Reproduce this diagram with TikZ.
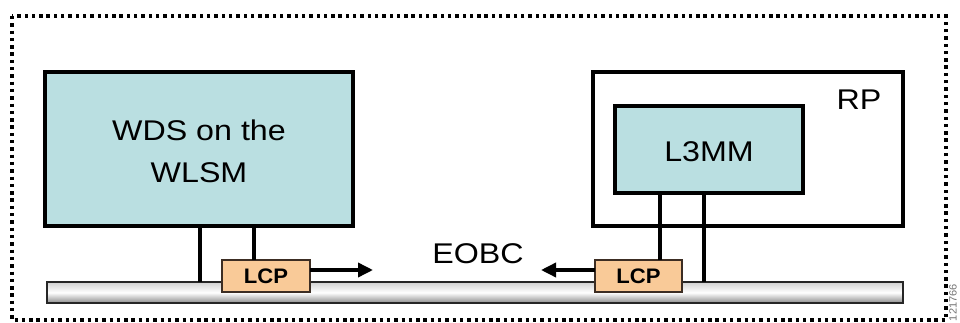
\documentclass[tikz,border=0pt]{standalone}
\usepackage{fontspec}
\setmainfont[FakeStretch=1.13]{Liberation Sans}
\newfontfamily\lcpfont[FakeStretch=1.05]{Liberation Sans}
\usetikzlibrary{arrows.meta}
\definecolor{modfill}{RGB}{186,223,225}
\definecolor{lcpfill}{RGB}{249,202,152}
\definecolor{lcpedge}{RGB}{60,45,35}
\tikzset{
  every node/.style={inner sep=0pt, outer sep=0pt},
  frame/.style={draw=black, line width=3.4pt, dash pattern=on 3.4pt off 3.9pt},
  module/.style={draw=black, line width=3.5pt, fill=modfill},
  chassis/.style={draw=black, line width=3.5pt, fill=white},
  bus/.style={draw=black!85, line width=2pt, top color=black!18, bottom color=black!45, middle color=white},
  lcpbox/.style={draw=lcpedge, line width=1.5pt, fill=lcpfill},
  link/.style={draw=black, line width=3.5pt},
  flow/.style={draw=black, line width=3.5pt, -{Triangle[length=15pt,width=14pt]}},
  bigtext/.style={font=\fontsize{28.5}{42}\selectfont, align=center},
  lcptext/.style={font=\lcpfont\fontsize{21}{22}\selectfont\bfseries},
}
\begin{document}
\begin{tikzpicture}[x=1pt, y=-1pt]
\useasboundingbox (0,0) rectangle (960,323);
\fill[white] (0,0) rectangle (960,323);

% dotted enclosure
\draw[frame] (12,16) rectangle (946,320);

% EOBC bus bar
\node[bus, minimum width=856pt, minimum height=21pt, anchor=north west] (busbar) at (47,282) {};

% WDS module
\node[module, minimum width=308pt, minimum height=154pt, anchor=north west] (wds) at (45,72) {};
\node[bigtext] (wdslabel) at (199,151) {WDS on the\\WLSM};

% RP chassis and L3MM module
\node[chassis, minimum width=310pt, minimum height=154pt, anchor=north west] (rp) at (593,72) {};
\node[font=\fontsize{28.5}{30}\selectfont, anchor=base] (rplabel) at (859,110) {RP};
\node[module, minimum width=188pt, minimum height=87pt, anchor=north west] (l3mm) at (615,106) {};
\node[font=\fontsize{28.5}{30}\selectfont, anchor=base] (l3mmlabel) at (709,162) {L3MM};

% LCP boxes
\node[lcpbox, minimum width=88pt, minimum height=32pt, anchor=north west] (lcpa) at (222,260) {};
\node[lcptext] (lcpalabel) at (lcpa.center) {LCP};
\node[lcpbox, minimum width=87pt, minimum height=32pt, anchor=north west] (lcpb) at (595,260) {};
\node[lcptext] (lcpblabel) at (lcpb.center) {LCP};

% connections to the bus
\draw[link] (wds.south -| 200,0) -- (busbar.north -| 200,0);
\draw[link] (wds.south -| 254,0) -- (lcpa.north -| 254,0);
\draw[link] (l3mm.south -| 660,0) -- (lcpb.north -| 660,0);
\draw[link] (l3mm.south -| 704,0) -- (busbar.north -| 704,0);

% message direction
\coordinate (flowa) at (373,270);
\coordinate (flowb) at (541,270);
\draw[flow] (lcpa.east |- flowa) -- (flowa);
\draw[flow] (lcpb.west |- flowb) -- (flowb);

\node[font=\fontsize{28.5}{30}\selectfont, anchor=base] (eobc) at (478,263) {EOBC};

% figure number
\node[font=\lcpfont\fontsize{10.5}{12}\selectfont, text=black!55, rotate=90, anchor=west] (figid) at (953,321) {121766};
\end{tikzpicture}
\end{document}
